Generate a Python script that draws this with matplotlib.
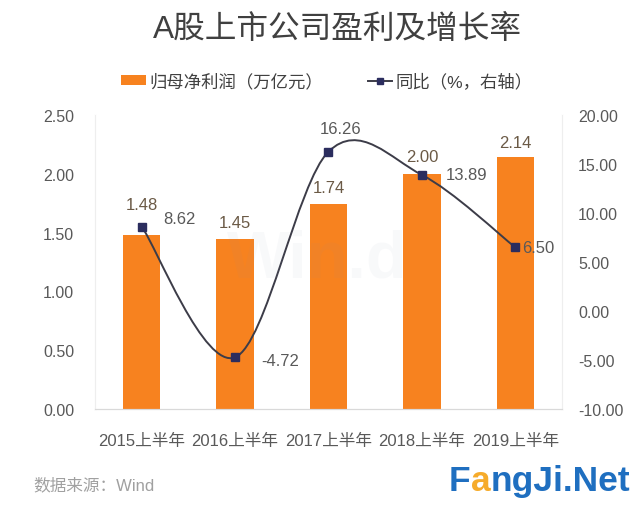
import matplotlib
matplotlib.use("Agg")
import matplotlib.pyplot as plt
from matplotlib.path import Path
from matplotlib.patches import PathPatch, Patch
from matplotlib.lines import Line2D

plt.rcParams['font.family'] = ['Liberation Sans', 'Noto Sans CJK SC']

# data
periods = ["2015上半年", "2016上半年", "2017上半年", "2018上半年", "2019上半年"]
profit = [1.48, 1.45, 1.74, 2.00, 2.14]       # 归母净利润 (万亿元)
yoy = [8.62, -4.72, 16.26, 13.89, 6.50]         # 同比 (%)
left_ticks = [0.0, 0.5, 1.0, 1.5, 2.0, 2.5]
right_ticks = [-10, -5, 0, 5, 10, 15, 20]

ORANGE = "#F7821F"
NAVY = "#2B2D5E"
LINE = "#3c3c48"
GRAY = "#595959"

fig = plt.figure(figsize=(6.4, 5.1), dpi=100)
ax = fig.add_axes([0.1484, 0.196, 0.7297, 0.5765])
ax2 = ax.twinx()

x = list(range(len(periods)))
ax.bar(x, profit, width=0.4, color=ORANGE, zorder=2)
ax.set_xlim(-0.5, len(periods) - 0.5)
ax.set_ylim(0, 2.5)
ax.set_yticks(left_ticks)
ax.set_yticklabels([f"{v:.2f}" for v in left_ticks])
ax.set_xticks(x)
ax.set_xticklabels(periods)
ax.tick_params(axis="both", length=0, labelcolor=GRAY)
ax.tick_params(axis="y", pad=15, labelsize=11.5)
ax.tick_params(axis="x", pad=17, labelsize=12)

ax2.set_ylim(-10, 20)
ax2.set_yticks(right_ticks)
ax2.set_yticklabels([f"{v:.2f}" for v in right_ticks])
ax2.tick_params(axis="y", length=0, labelsize=11.5, labelcolor=GRAY, pad=11.5)

for a in (ax, ax2):
    a.spines["top"].set_visible(False)
    a.spines["left"].set_color("#eeeeee")
    a.spines["right"].set_color("#eeeeee")
    a.spines["bottom"].set_color("#d9d9d9")

# smooth line (Catmull-Rom style bezier through the points, like Excel's smoothed line)
pts = list(zip(x, yoy))
verts, codes = [pts[0]], [Path.MOVETO]
for i in range(len(pts) - 1):
    p0 = pts[max(i - 1, 0)]
    p1, p2 = pts[i], pts[i + 1]
    p3 = pts[min(i + 2, len(pts) - 1)]
    c1 = (p1[0] + (p2[0] - p0[0]) / 6, p1[1] + (p2[1] - p0[1]) / 6)
    c2 = (p2[0] - (p3[0] - p1[0]) / 6, p2[1] - (p3[1] - p1[1]) / 6)
    verts += [c1, c2, p2]
    codes += [Path.CURVE4] * 3
ax2.add_patch(PathPatch(Path(verts, codes), facecolor="none", edgecolor=LINE,
                        lw=1.4, zorder=3))
ax2.plot(x, yoy, ls="none", marker="s", ms=5.8, color=NAVY, zorder=4)

# bar labels (offsets in points; 1px = 0.72pt)
bar_dy = [30, 16, 17, 17, 15]
for xi, v, dy in zip(x, profit, bar_dy):
    ax.annotate(f"{v:.2f}", (xi, v), xytext=(0, dy * 0.72), textcoords="offset points",
                ha="center", va="center", fontsize=12, color="#6b5a46", zorder=5)

# line labels
line_off = [(22, 8, "left"), (26, -3, "left"), (12, 23, "center"), (24, 0, "left"), (7, 0, "left")]
for xi, v, (dx, dy, ha) in zip(x, yoy, line_off):
    ax2.annotate(f"{v:.2f}", (xi, v), xytext=(dx * 0.72, dy * 0.72), textcoords="offset points",
                 ha=ha, va="center", fontsize=12, color=GRAY, zorder=5)

# faint watermark
fig.text(0.495, 0.49, "Win.d", fontsize=48, fontweight="bold", color="#8890b0",
         alpha=0.05, ha="center", va="center", zorder=10)

# title
fig.text(337 / 640, 1 - 30 / 510, "A股上市公司盈利及增长率", fontsize=22.8, color="#404040",
         ha="center", va="center")

# legend
handles = [Patch(facecolor=ORANGE, edgecolor="none"),
           Line2D([], [], color=LINE, lw=1.4, marker="s", ms=5, markerfacecolor=NAVY,
                  markeredgecolor=NAVY)]
fig.legend(handles, ["归母净利润（万亿元）", "同比（%，右轴）"], loc="center",
           bbox_to_anchor=(327 / 640, 1 - 82 / 510), ncol=2, frameon=False, fontsize=12.5,
           handlelength=1.4, handleheight=0.5, handletextpad=0.2, columnspacing=2.6,
           labelcolor="#404040")

# footer
fig.text(33 / 640, 1 - 485 / 510, "数据来源：Wind", fontsize=12, color="#a0a0a0",
         ha="left", va="center")

fig.canvas.draw()
r = fig.canvas.get_renderer()
parts = [("F", "#1f6fc0"), ("a", "#f6ab2a"), ("ngJi.Net", "#1f6fc0")]
size = 25
probe = fig.text(0, 0, "FangJi.Net", fontsize=size, fontweight="bold", ha="left")
size *= 181 / probe.get_window_extent(r).width
probe.remove()
xpos = 449
for part, col in parts:
    t = fig.text(xpos / 640, 1 - 482 / 510, part, fontsize=size, fontweight="bold", color=col,
                 ha="left", va="center")
    xpos += t.get_window_extent(r).width

fig.savefig("out.png", dpi=100, facecolor="white")
